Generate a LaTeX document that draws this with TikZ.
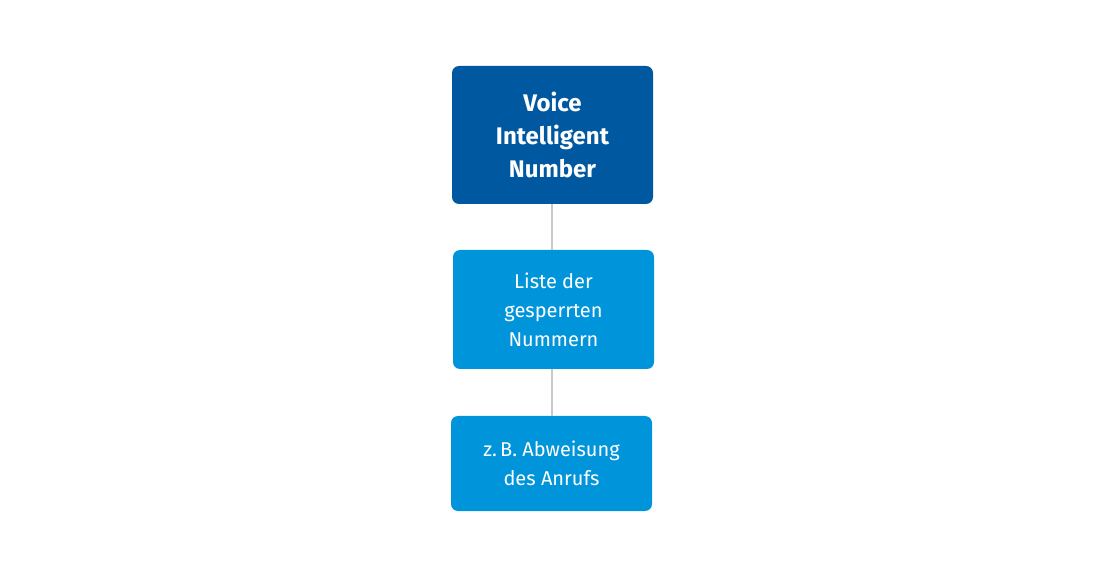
\documentclass[tikz,border=0pt]{standalone}
\usepackage{fontspec}
\setmainfont{Fira Sans}
\definecolor{darkb}{HTML}{0059A0}
\definecolor{lightb}{HTML}{0095DA}
\definecolor{lin}{HTML}{C8C8C8}
\begin{document}
\begin{tikzpicture}[x=1pt,y=1pt,
  boxa/.style={fill=darkb,rounded corners=7pt,minimum width=201pt,minimum height=138pt,text=white,align=center,font=\fontsize{24}{33}\selectfont\bfseries},
  boxb/.style={fill=lightb,rounded corners=7pt,minimum width=201pt,text=white,align=center,font=\fontsize{20}{29}\selectfont}]
\path[fill=white] (0,0) rectangle (1104,579);
\node[boxa] (a) at (552.5,444) {Voice\\Intelligent\\Number};
\node[boxb,minimum height=119pt] (b) at (553.5,269.5) {Liste der\\gesperrten\\Nummern};
\node[boxb,minimum height=95pt] (c) at (551.5,115.5) {z.\,B. Abweisung\\des Anrufs};
\draw[lin,line width=1.2pt] (a.south -| 552,0) -- (b.north -| 552,0);
\draw[lin,line width=1.2pt] (b.south -| 552,0) -- (c.north -| 552,0);
\end{tikzpicture}
\end{document}
